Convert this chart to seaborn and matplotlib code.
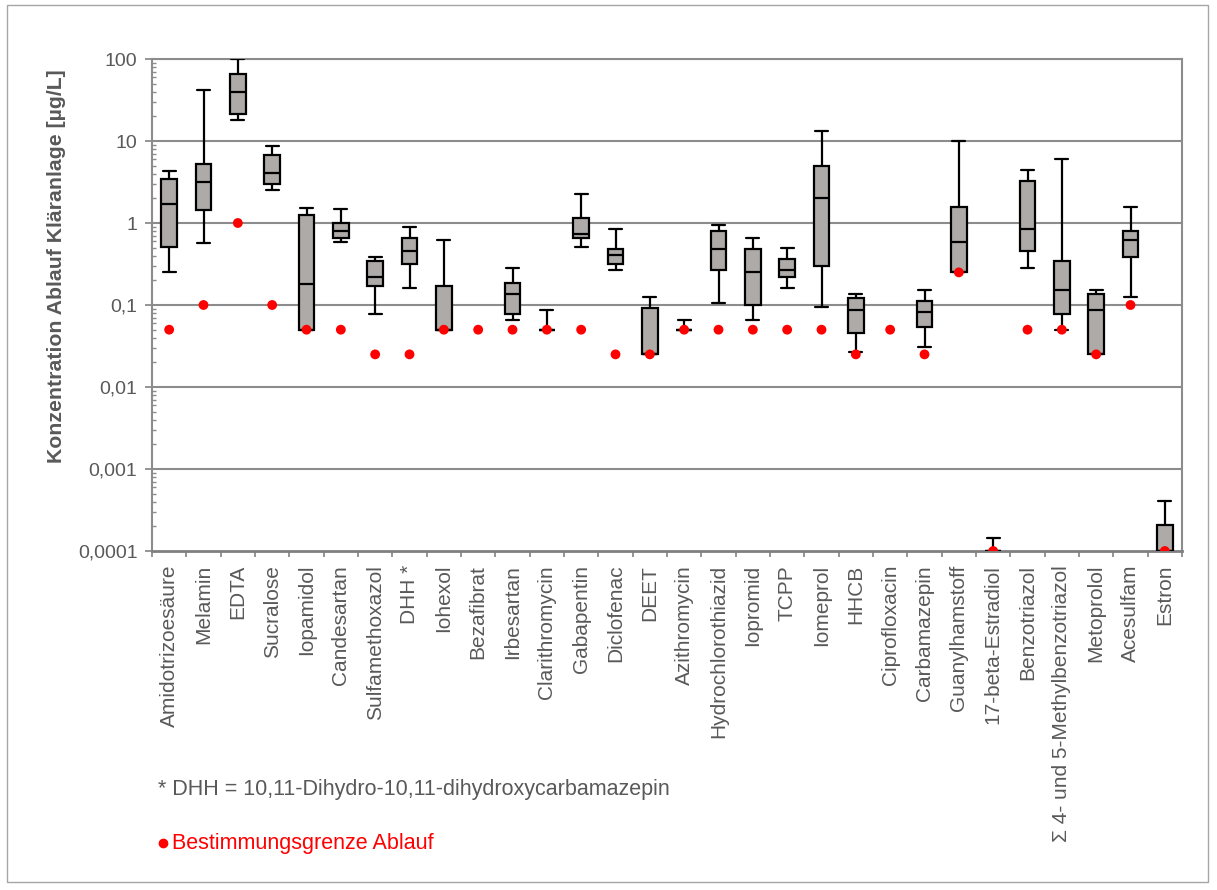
import numpy as np
import pandas as pd
import matplotlib
matplotlib.use("Agg")
import matplotlib.pyplot as plt
import seaborn as sns
from matplotlib.ticker import FixedLocator, LogLocator, NullFormatter
from matplotlib.patches import Rectangle
from matplotlib.lines import Line2D

# Substances measured in the treatment plant effluent
substances = [
    "Amidotrizoesäure", "Melamin", "EDTA", "Sucralose", "Iopamidol",
    "Candesartan", "Sulfamethoxazol", "DHH *", "Iohexol", "Bezafibrat",
    "Irbesartan", "Clarithromycin", "Gabapentin", "Diclofenac", "DEET",
    "Azithromycin", "Hydrochlorothiazid", "Iopromid", "TCPP", "Iomeprol",
    "HHCB", "Ciprofloxacin", "Carbamazepin", "Guanylhamstoff",
    "17-beta-Estradiol", "Benzotriazol", "Σ 4- und 5-Methylbenzotriazol",
    "Metoprolol", "Acesulfam", "Estron",
]

# Five-number summaries in µg/L (nan = no findings above the limit)
whisker_low = [0.25, 0.57, 17.8, 2.5, 0.05, 0.58, 0.078, 0.163, 0.05, np.nan,
               0.065, 0.05, 0.515, 0.265, 0.025, 0.05, 0.106, 0.065, 0.163, 0.094,
               0.027, np.nan, 0.031, 0.25, 0.0001, 0.28, 0.05, 0.025, 0.126, 0.0001]
q1 = [0.51, 1.43, 21.5, 3.0, 0.05, 0.66, 0.172, 0.32, 0.05, np.nan,
      0.078, 0.05, 0.66, 0.32, 0.025, 0.05, 0.265, 0.099, 0.22, 0.297,
      0.045, np.nan, 0.054, 0.25, 0.0001, 0.456, 0.078, 0.025, 0.38, 0.0001]
median = [1.72, 3.2, 40.0, 4.1, 0.179, 0.80, 0.222, 0.456, 0.05, np.nan,
          0.135, 0.05, 0.74, 0.41, 0.025, 0.05, 0.48, 0.25, 0.265, 1.99,
          0.088, np.nan, 0.083, 0.59, 0.0001, 0.85, 0.152, 0.088, 0.626, 0.0001]
q3 = [3.4, 5.2, 65.0, 6.7, 1.26, 1.0, 0.34, 0.66, 0.172, np.nan,
      0.184, 0.05, 1.15, 0.48, 0.093, 0.05, 0.80, 0.48, 0.36, 4.98,
      0.121, np.nan, 0.112, 1.56, 0.0001, 3.27, 0.342, 0.137, 0.80, 0.000206]
whisker_high = [4.3, 42.0, 100.0, 8.6, 1.54, 1.47, 0.38, 0.90, 0.62, np.nan,
                0.28, 0.088, 2.25, 0.84, 0.126, 0.065, 0.955, 0.66, 0.49, 13.3,
                0.135, np.nan, 0.152, 9.9, 0.000143, 4.4, 6.0, 0.152, 1.56, 0.000404]

# Limit of quantification in the effluent (µg/L)
loq = [0.05, 0.1, 1.0, 0.1, 0.05, 0.05, 0.025, 0.025, 0.05, 0.05,
       0.05, 0.05, 0.05, 0.025, 0.025, 0.05, 0.05, 0.05, 0.05, 0.05,
       0.025, 0.05, 0.025, 0.25, 0.0001, 0.05, 0.05, 0.025, 0.1, 0.0001]

y_ticks = [0.0001, 0.001, 0.01, 0.1, 1, 10, 100]
y_tick_labels = ["0,0001", "0,001", "0,01", "0,1", "1", "10", "100"]

# Long-form table: the five summary values per substance reproduce the box exactly
rows = []
for i, name in enumerate(substances):
    vals = [whisker_low[i], q1[i], median[i], q3[i], whisker_high[i]]
    if np.isnan(vals[0]):
        continue
    for v in vals:
        rows.append({"Substanz": name, "Wert": v})
box_df = pd.DataFrame(rows)
loq_df = pd.DataFrame({"Substanz": substances, "BG": loq})

sns.set_theme(style="white")
plt.rcParams["font.family"] = ["Liberation Sans", "DejaVu Sans"]

text_grey = "#595959"
axis_grey = "#8c8c8c"
box_fill = "#aeaaa8"

W, H = 1217, 890
fig = plt.figure(figsize=(W / 100, H / 100), dpi=100)
left, right, top, bottom = 152, 1182, 59, 551
ax = fig.add_axes([left / W, 1 - bottom / H, (right - left) / W, (bottom - top) / H])

sns.boxplot(
    data=box_df, x="Substanz", y="Wert", order=substances,
    whis=(0, 100), width=0.46, color=box_fill, saturation=1,
    linecolor="black", linewidth=1.6, fliersize=0, log_scale=True,
    capwidths=0.38, ax=ax, zorder=3,
)
sns.scatterplot(
    data=loq_df, x="Substanz", y="BG", color="#ff0000", s=50,
    edgecolor="none", linewidth=0, zorder=6, legend=False, ax=ax,
)

ax.set_yscale("log")
ax.set_ylim(1e-4, 100)
ax.set_xlim(-0.5, len(substances) - 0.5)

ax.yaxis.set_major_locator(FixedLocator(y_ticks))
ax.set_yticklabels(y_tick_labels)
ax.yaxis.set_minor_locator(LogLocator(base=10, subs=np.arange(2, 10), numticks=20))
ax.yaxis.set_minor_formatter(NullFormatter())
ax.tick_params(axis="y", which="major", direction="out", length=5, width=1.3,
               color=axis_grey, labelsize=14, labelcolor=text_grey, pad=5.5, left=True)
ax.tick_params(axis="y", which="minor", direction="in", length=3, width=1.0,
               color=axis_grey, left=True)

ax.set_xticks(range(len(substances)))
ax.set_xticklabels(substances, rotation=90)
ax.xaxis.set_minor_locator(FixedLocator(np.arange(-0.5, len(substances), 1.0)))
ax.tick_params(axis="x", which="major", length=0, labelsize=15,
               labelcolor=text_grey, pad=10)
ax.tick_params(axis="x", which="minor", direction="out", length=4.5, width=1.3,
               color=axis_grey, bottom=True)

ax.set_xlabel("")
ax.set_ylabel("")
ax.grid(False)
for t in y_ticks[1:]:
    ax.axhline(t, color=axis_grey, lw=1.5, zorder=1)

for side in ["left", "bottom", "right", "top"]:
    ax.spines[side].set_visible(True)
    ax.spines[side].set_color(axis_grey)
    ax.spines[side].set_linewidth(1.5)
ax.spines["bottom"].set_linewidth(2.0)
ax.spines["bottom"].set_color("#7f7f7f")

fig.text(57 / W, 1 - 266 / H, "Konzentration Ablauf Kläranlage [µg/L]",
         rotation=90, ha="center", va="center", fontsize=15.3,
         fontweight="bold", color=text_grey)

fig.text(158 / W, 1 - 789 / H,
         "* DHH = 10,11-Dihydro-10,11-dihydroxycarbamazepin",
         ha="left", va="center", fontsize=15.5, color=text_grey)
fig.add_artist(Line2D([163 / W], [1 - 843 / H], marker="o", markersize=6,
                      color="#ff0000", linestyle="none", transform=fig.transFigure))
fig.text(172 / W, 1 - 843 / H, "Bestimmungsgrenze Ablauf",
         ha="left", va="center", fontsize=15.5, color="#ff0000")

fig.add_artist(Rectangle((7 / W, 1 - 882 / H), 1201 / W, 877 / H,
                         transform=fig.transFigure, fill=False,
                         edgecolor="#a6a6a6", linewidth=1.0))

fig.savefig("out.png", dpi=100)
